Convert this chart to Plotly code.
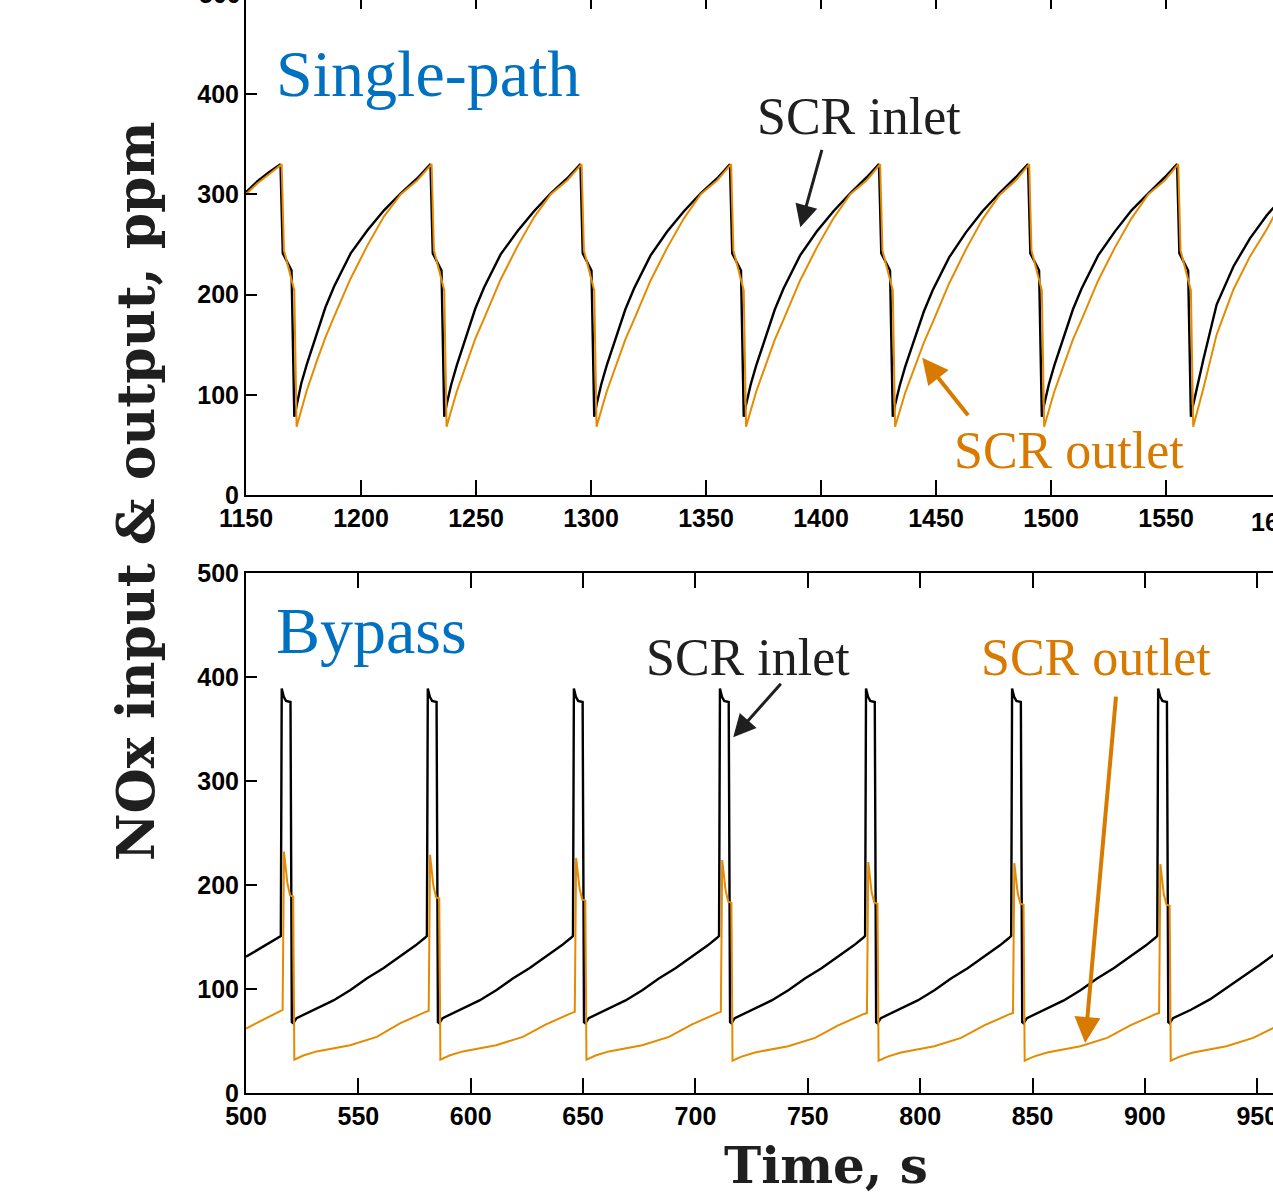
import plotly.graph_objects as go

# ---------------- data ----------------
# Top panel: Single-path, SCR inlet (black)
SP_IN_T = [1150, 1155, 1160,
           1165, 1166, 1169.8, 1171, 1172, 1174, 1176.4, 1181, 1184.5, 1188.3, 1195.5, 1202.8, 1210, 1217.3, 1224.5,
           1230.2, 1231.2, 1235, 1236.2, 1237.2, 1239.2, 1241.6, 1246.2, 1249.7, 1253.5, 1260.7, 1268, 1275.2, 1282.5, 1289.7,
           1295.4, 1296.4, 1300.2, 1301.4, 1302.4, 1304.4, 1306.8, 1311.4, 1314.9, 1318.7, 1325.9, 1333.2, 1340.4, 1347.7, 1354.9,
           1360.4, 1361.4, 1365.2, 1366.4, 1367.4, 1369.4, 1371.8, 1376.4, 1379.9, 1383.7, 1390.9, 1398.2, 1405.4, 1412.7, 1419.9,
           1425.2, 1426.2, 1430, 1431.2, 1432.2, 1434.2, 1436.6, 1441.2, 1444.7, 1448.5, 1455.7, 1463, 1470.2, 1477.5, 1484.7,
           1490, 1491, 1494.8, 1496, 1497, 1499, 1501.4, 1506, 1509.5, 1513.3, 1520.5, 1527.8, 1535, 1542.3, 1549.5,
           1554.8, 1555.8, 1559.6, 1560.8, 1561.8, 1563.8, 1566.2, 1572, 1579.3, 1586.5, 1593.8, 1598]
SP_IN_Y = [302, 313, 322,
           330, 241, 224, 78, 90, 111, 130, 163, 187, 208, 241, 264, 284, 301, 316,
           330, 241, 224, 78, 90, 110, 129, 162, 186, 207, 240, 263, 283, 301, 316,
           330, 241, 224, 78, 90, 110, 129, 161, 185, 206, 239, 263, 283, 301, 316,
           330, 241, 224, 78, 90, 110, 129, 161, 185, 206, 239, 263, 283, 301, 317,
           330, 241, 224, 78, 90, 109, 128, 160, 183, 204, 237, 262, 283, 301, 317,
           330, 241, 224, 78, 90, 110, 129, 161, 185, 206, 239, 263, 284, 301, 317,
           330, 241, 224, 78, 90, 112, 135, 190, 228, 256, 279, 290]

# Top panel: Single-path, SCR outlet (orange)
SP_OUT_T = [1150, 1155, 1160,
            1165.5, 1166.5, 1171, 1172, 1176.4, 1181, 1184.5, 1188.3, 1195.5, 1202.8, 1210, 1217.3, 1224.5,
            1230.7, 1231.7, 1236.2, 1237.2, 1241.6, 1246.2, 1249.7, 1253.5, 1260.7, 1268, 1275.2, 1282.5, 1289.7,
            1295.9, 1296.9, 1301.4, 1302.4, 1306.8, 1311.4, 1314.9, 1318.7, 1325.9, 1333.2, 1340.4, 1347.7, 1354.9,
            1360.9, 1361.9, 1366.4, 1367.4, 1371.8, 1376.4, 1379.9, 1383.7, 1390.9, 1398.2, 1405.4, 1412.7, 1419.9,
            1425.7, 1426.7, 1431.2, 1432.2, 1436.6, 1441.2, 1444.7, 1448.5, 1455.7, 1463, 1470.2, 1477.5, 1484.7,
            1490.5, 1491.5, 1496, 1497, 1501.4, 1506, 1509.5, 1513.3, 1520.5, 1527.8, 1535, 1542.3, 1549.5,
            1555.3, 1556.3, 1560.8, 1561.8, 1566.2, 1572, 1579.3, 1586.5, 1593.8, 1598]
SP_OUT_Y = [300, 311, 320,
            330, 244, 204, 68, 104, 135, 157, 178, 216, 249, 278, 300, 314,
            330, 244, 204, 68, 103, 134, 156, 176, 215, 248, 277, 300, 314,
            330, 244, 204, 68, 103, 133, 155, 175, 214, 247, 276, 300, 314,
            330, 244, 204, 68, 103, 133, 155, 175, 214, 247, 276, 300, 314,
            330, 244, 204, 68, 102, 130, 152, 172, 211, 245, 275, 299, 314,
            330, 244, 204, 68, 103, 133, 155, 175, 214, 247, 276, 300, 314,
            330, 244, 204, 68, 106, 160, 205, 238, 265, 283]

# Bottom panel: Bypass, SCR inlet (black)
BP_IN_T = [500, 507, 514.4,
           515.5, 515.9, 516.8, 517.8, 519.8, 520.4, 521, 522.5, 530.5, 538.9, 546.5, 553.7, 561.1, 568.5, 575.5, 579.5,
           580.5, 580.9, 581.8, 582.8, 584.8, 585.4, 586, 587.5, 595.5, 603.9, 611.5, 618.7, 626.1, 633.5, 640.5, 644.5,
           645.5, 645.9, 646.8, 647.8, 649.8, 650.4, 651, 652.5, 660.5, 668.9, 676.5, 683.7, 691.1, 698.5, 705.5, 709.5,
           710.5, 710.9, 711.8, 712.8, 714.8, 715.4, 716, 717.5, 725.5, 733.9, 741.5, 748.7, 756.1, 763.5, 770.5, 774.5,
           775.5, 775.9, 776.8, 777.8, 779.8, 780.4, 781, 782.5, 790.5, 798.9, 806.5, 813.7, 821.1, 828.5, 835.5, 839.5,
           840.5, 840.9, 841.8, 842.8, 844.8, 845.4, 846, 847.5, 855.5, 863.9, 871.5, 878.7, 886.1, 893.5, 900.5, 904.5,
           905.5, 905.9, 906.8, 907.8, 909.8, 910.4, 911, 912.5, 920.5, 928.9, 936.5, 943.7, 951.1, 958.5]
BP_IN_Y = [131, 140, 149,
           151, 389, 381, 377, 376, 68, 67, 72, 80, 89, 99, 110, 120, 131, 142, 149,
           151, 389, 381, 377, 376, 68, 67, 72, 80, 89, 99, 110, 120, 131, 142, 149,
           151, 389, 381, 377, 376, 68, 67, 72, 80, 89, 99, 110, 120, 131, 142, 149,
           151, 389, 381, 377, 376, 68, 67, 72, 80, 89, 99, 110, 120, 131, 142, 149,
           151, 389, 381, 377, 376, 68, 67, 72, 80, 89, 99, 110, 120, 131, 142, 149,
           151, 389, 381, 377, 376, 68, 67, 72, 80, 89, 99, 110, 120, 131, 142, 149,
           151, 389, 381, 377, 376, 68, 67, 72, 80, 90, 101, 112, 123, 135]

# Bottom panel: Bypass, SCR outlet (orange)
BP_OUT_T = [500, 508,
            516.3, 516.9, 518.4, 519.6, 521, 521.5, 525.5, 531.5, 546.3, 558.2, 568.5, 580,
            581.3, 581.9, 583.4, 584.6, 586, 586.5, 590.5, 596.5, 611.3, 623.2, 633.5, 645,
            646.3, 646.9, 648.4, 649.6, 651, 651.5, 655.5, 661.5, 676.3, 688.2, 698.5, 710,
            711.3, 711.9, 713.4, 714.6, 716, 716.5, 720.5, 726.5, 741.3, 753.2, 763.5, 775,
            776.3, 776.9, 778.4, 779.6, 781, 781.5, 785.5, 791.5, 806.3, 818.2, 828.5, 840,
            841.3, 841.9, 843.4, 844.6, 846, 846.5, 850.5, 856.5, 871.3, 883.2, 893.5, 905,
            906.3, 906.9, 908.4, 909.6, 911, 911.5, 915.5, 921.5, 936.3, 948.2, 958.5]
BP_OUT_Y = [62, 71,
            80, 232, 202, 190, 189, 32, 36, 40, 46, 54, 67, 78,
            79, 229, 199, 188, 187, 32, 36, 40, 46, 54, 66, 77,
            78, 226, 197, 186, 185, 32, 36, 40, 46, 54, 66, 77,
            78, 224, 195, 184, 183, 31, 35, 39, 45, 53, 65, 76,
            77, 222, 193, 183, 182, 31, 35, 39, 45, 53, 65, 76,
            77, 221, 192, 182, 181, 31, 35, 39, 45, 53, 65, 76,
            77, 220, 191, 181, 180, 31, 35, 39, 45, 53, 64]

TOP_X_TICKS = [1150, 1200, 1250, 1300, 1350, 1400, 1450, 1500, 1550, 1600]
BOT_X_TICKS = [500, 550, 600, 650, 700, 750, 800, 850, 900, 950, 1000]
Y_TICKS = [0, 100, 200, 300, 400, 500]

# ---------------- styling ----------------
W, H = 1273, 1196
BLACK = "#000000"
ORANGE = "#E68A00"
ORANGE_TXT = "#D97A00"
BLUE = "#0070C0"
DARK = "#1f1f1f"
TICKFONT = dict(family="Liberation Sans, Arial, sans-serif", size=25, color="#000000", weight=700)
SERIF = "Liberation Serif, Times New Roman, serif"
BOLDSERIF = "DejaVu Serif, serif"

def px_x(p):
    return p / W

def px_y(p):
    return 1 - p / H

x_left = px_x(246)
top_dom = [px_y(495), 1.0]
bot_dom = [px_y(1093), px_y(573)]
top_yrange = [0, 495 / 1.0025]

fig = go.Figure()
fig.add_trace(go.Scatter(x=SP_IN_T, y=SP_IN_Y, mode="lines", line=dict(color=BLACK, width=2.4),
                         xaxis="x", yaxis="y", showlegend=False, hoverinfo="skip"))
fig.add_trace(go.Scatter(x=SP_OUT_T, y=SP_OUT_Y, mode="lines", line=dict(color=ORANGE, width=2),
                         xaxis="x", yaxis="y", showlegend=False, hoverinfo="skip"))
fig.add_trace(go.Scatter(x=BP_IN_T, y=BP_IN_Y, mode="lines", line=dict(color=BLACK, width=2.4),
                         xaxis="x2", yaxis="y2", showlegend=False, hoverinfo="skip"))
fig.add_trace(go.Scatter(x=BP_OUT_T, y=BP_OUT_Y, mode="lines", line=dict(color=ORANGE, width=2),
                         xaxis="x2", yaxis="y2", showlegend=False, hoverinfo="skip"))
# empty trace so the top tick-only overlay axis is drawn
fig.add_trace(go.Scatter(x=[], y=[], xaxis="x3", yaxis="y", showlegend=False, hoverinfo="skip"))

axis_common = dict(showgrid=False, zeroline=False, showline=True, linecolor="#000000", linewidth=2,
                   ticks="inside", tickcolor="#000000", tickwidth=1.5, tickfont=TICKFONT,
                   automargin=False, ticklabeloverflow="allow")

fig.update_layout(
    width=W, height=H,
    margin=dict(l=0, r=0, t=0, b=0, autoexpand=False),
    paper_bgcolor="white", plot_bgcolor="white",
    xaxis=dict(domain=[x_left, 1.0], anchor="y", range=[1150, 1596.5], tickvals=TOP_X_TICKS,
               ticklen=15, mirror=False, **axis_common),
    yaxis=dict(domain=top_dom, anchor="x", range=top_yrange, tickvals=Y_TICKS, ticklen=11,
               mirror=False, **axis_common),
    xaxis2=dict(domain=[x_left, 1.0], anchor="y2", range=[500, 957], tickvals=BOT_X_TICKS,
                ticklen=15, mirror="ticks", **axis_common),
    yaxis2=dict(domain=bot_dom, anchor="x2", range=[0, 500], tickvals=Y_TICKS, ticklen=11,
                mirror=False, **axis_common),
    xaxis3=dict(overlaying="x", side="top", anchor="y", range=[1150, 1596.5], tickvals=TOP_X_TICKS,
                ticks="inside", ticklen=9, tickwidth=1.5, tickcolor="#000000", showticklabels=False,
                showline=False, showgrid=False, zeroline=False, automargin=False),
)

ann = []
# axis titles
ann.append(dict(text="NOx input & output, ppm", xref="paper", yref="paper", x=px_x(136), y=px_y(492),
                textangle=-90, showarrow=False, xanchor="center", yanchor="middle",
                font=dict(family=BOLDSERIF, size=52, color=DARK, weight=700)))
ann.append(dict(text="Time, s", xref="paper", yref="paper", x=px_x(826), y=px_y(1165),
                showarrow=False, xanchor="center", yanchor="middle",
                font=dict(family=BOLDSERIF, size=50, color=DARK, weight=700)))
# panel labels
ann.append(dict(text="Single-path", xref="paper", yref="paper", x=px_x(274), y=px_y(74),
                showarrow=False, xanchor="left", yanchor="middle",
                font=dict(family=SERIF, size=66, color=BLUE)))
ann.append(dict(text="Bypass", xref="paper", yref="paper", x=px_x(274), y=px_y(630),
                showarrow=False, xanchor="left", yanchor="middle",
                font=dict(family=SERIF, size=66, color=BLUE)))
# series labels
ann.append(dict(text="SCR inlet", xref="paper", yref="paper", x=px_x(755), y=px_y(116),
                showarrow=False, xanchor="left", yanchor="middle",
                font=dict(family=SERIF, size=52, color=DARK)))
ann.append(dict(text="SCR outlet", xref="paper", yref="paper", x=px_x(952), y=px_y(450),
                showarrow=False, xanchor="left", yanchor="middle",
                font=dict(family=SERIF, size=52, color=ORANGE_TXT)))
ann.append(dict(text="SCR inlet", xref="paper", yref="paper", x=px_x(644), y=px_y(657),
                showarrow=False, xanchor="left", yanchor="middle",
                font=dict(family=SERIF, size=52, color=DARK)))
ann.append(dict(text="SCR outlet", xref="paper", yref="paper", x=px_x(979), y=px_y(657),
                showarrow=False, xanchor="left", yanchor="middle",
                font=dict(family=SERIF, size=52, color=ORANGE_TXT)))
# arrows (tip at curve, tail offset in pixels)
ann.append(dict(text="", xref="x", yref="y", x=1391, y=267, ax=22, ay=-79, showarrow=True,
                arrowhead=2, arrowsize=1.5, arrowwidth=3, arrowcolor=DARK, standoff=0))
ann.append(dict(text="", xref="x", yref="y", x=1444, y=137, ax=47, ay=59, showarrow=True,
                arrowhead=2, arrowsize=1.3, arrowwidth=4, arrowcolor=ORANGE_TXT, standoff=0))
ann.append(dict(text="", xref="x2", yref="y2", x=716.8, y=342, ax=49, ay=-55, showarrow=True,
                arrowhead=2, arrowsize=1.5, arrowwidth=3, arrowcolor=DARK, standoff=0))
ann.append(dict(text="", xref="x2", yref="y2", x=873.4, y=48, ax=31, ay=-348, showarrow=True,
                arrowhead=2, arrowsize=1.3, arrowwidth=4, arrowcolor=ORANGE_TXT, standoff=0))
# tick labels cut by the picture edges
ann.append(dict(text="500", xref="paper", yref="paper", x=px_x(243), y=px_y(-6), showarrow=False,
                xanchor="right", yanchor="middle", font=TICKFONT))
ann.append(dict(text="1600", xref="paper", yref="paper", x=px_x(1279), y=px_y(506), showarrow=False,
                xanchor="center", yanchor="top", font=TICKFONT))
fig.update_layout(annotations=ann)

fig.write_html("out.html")
